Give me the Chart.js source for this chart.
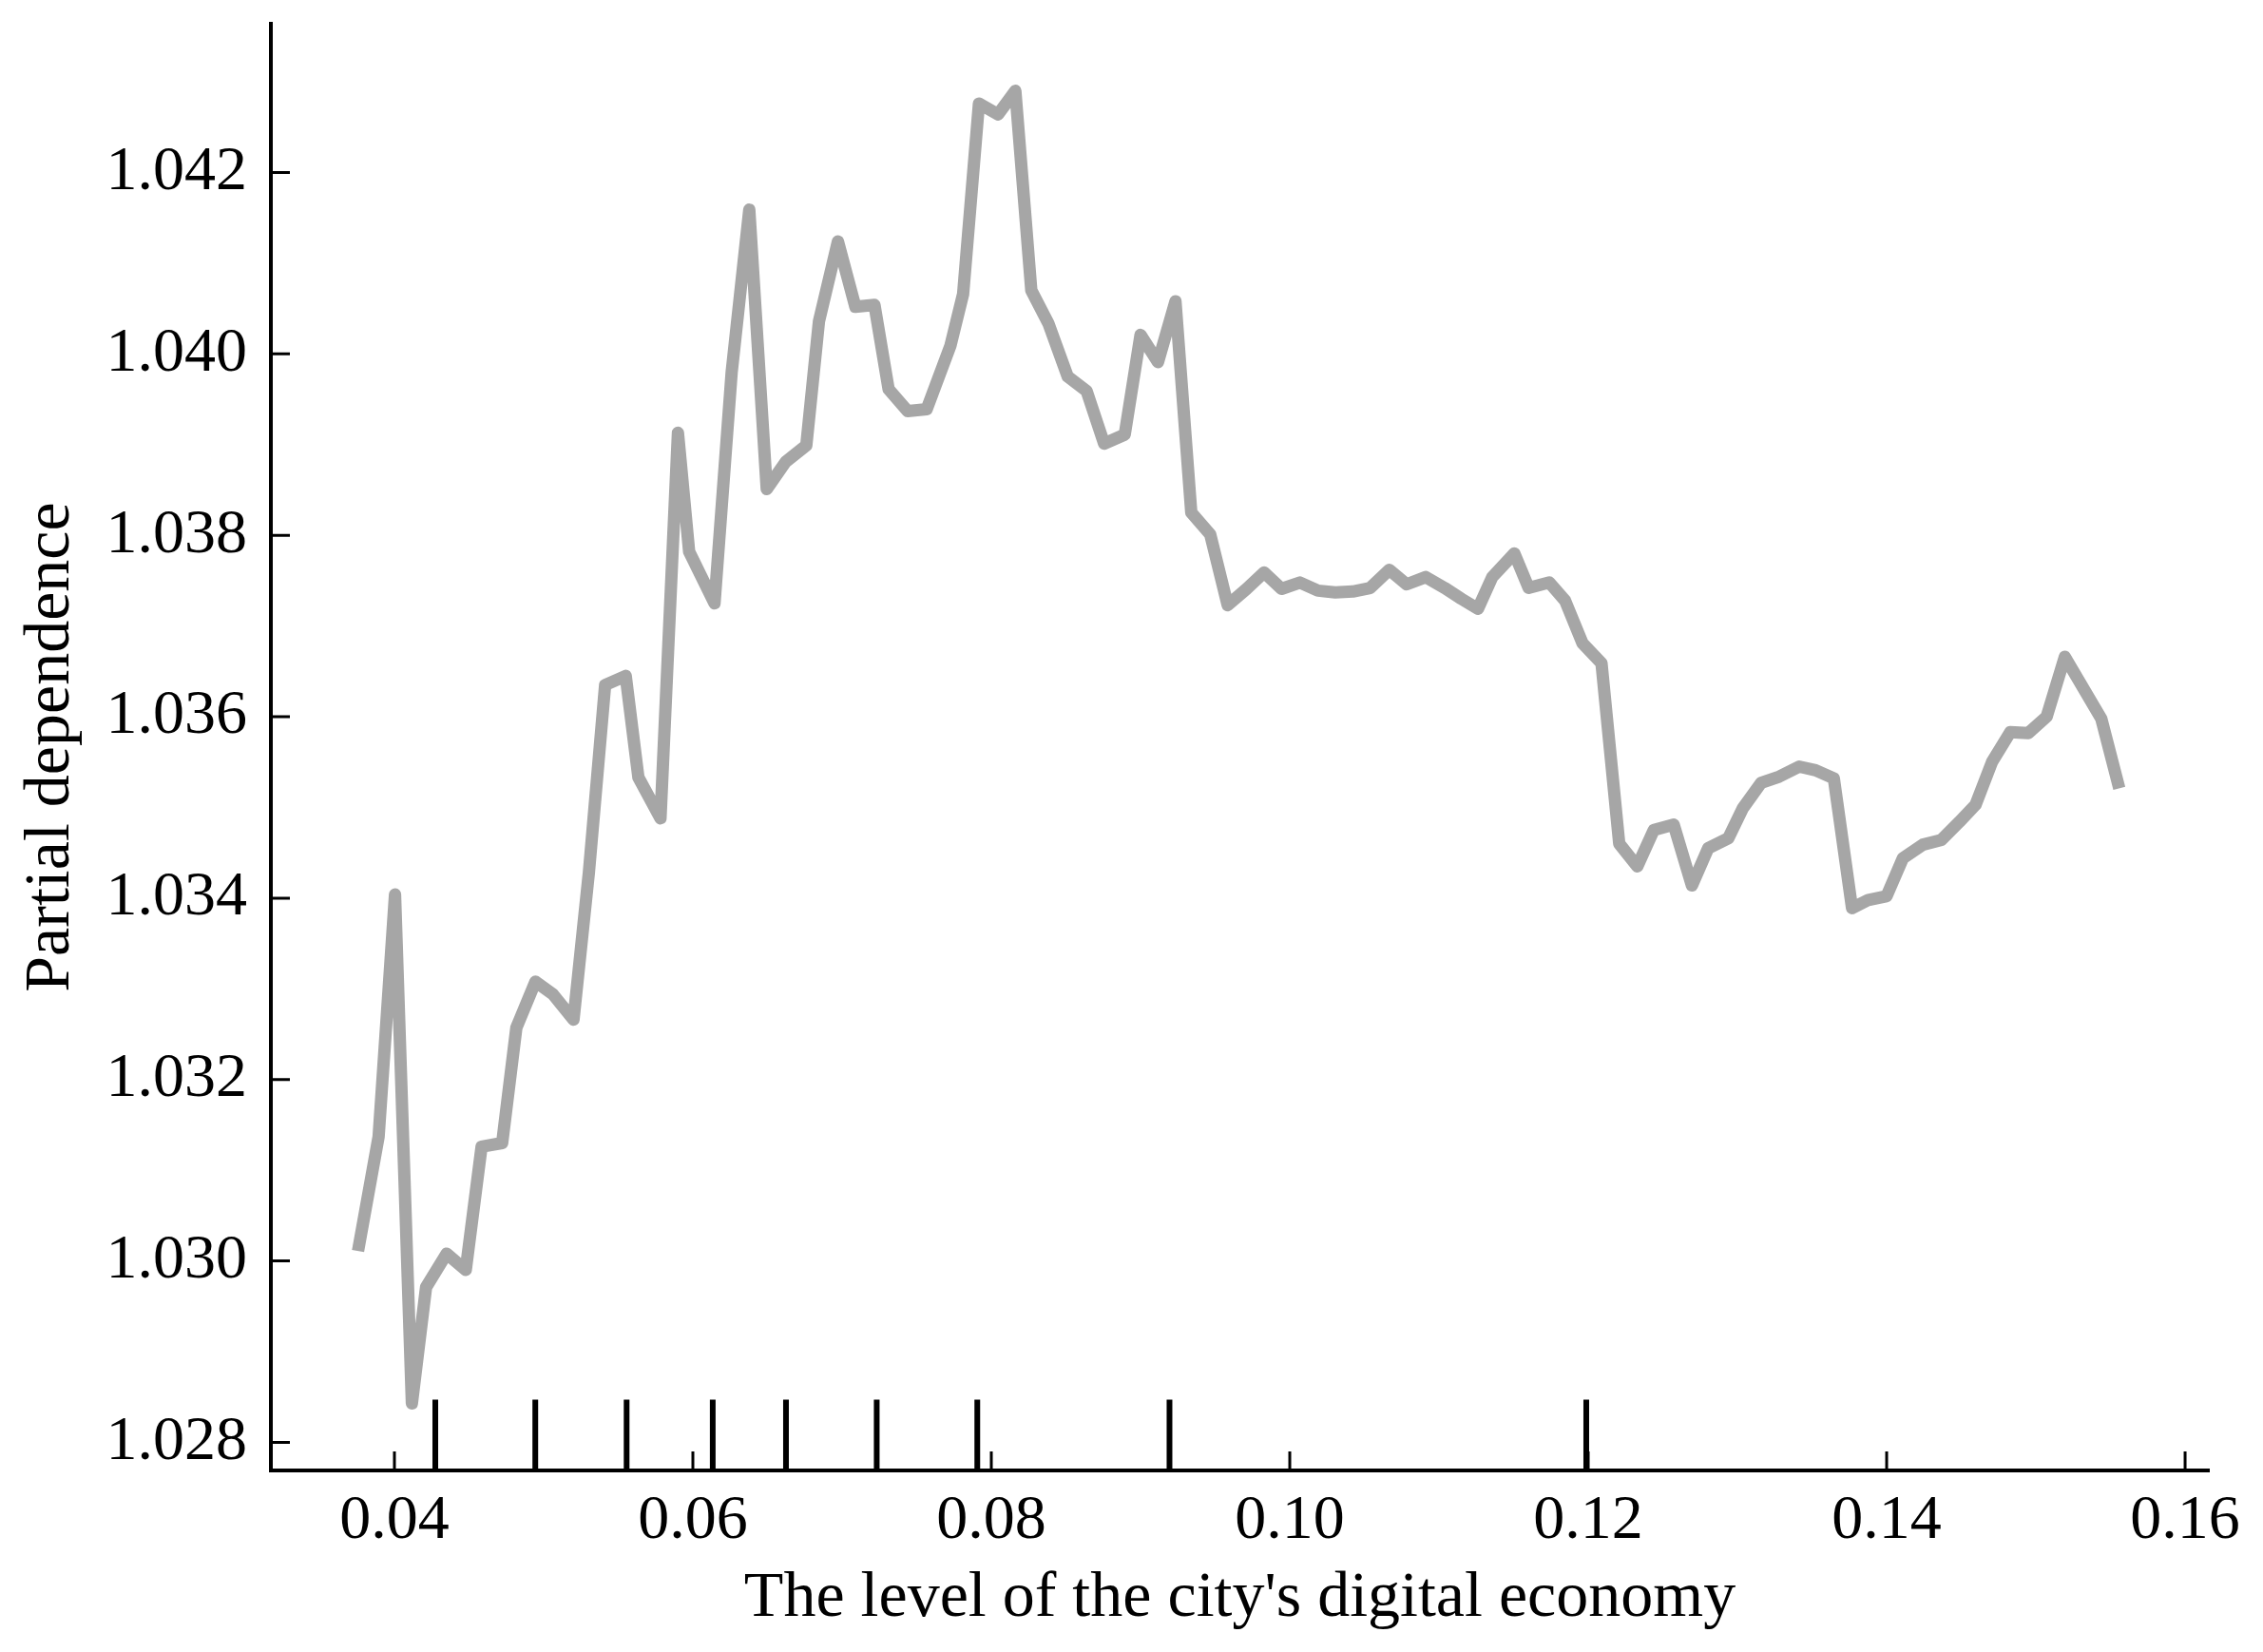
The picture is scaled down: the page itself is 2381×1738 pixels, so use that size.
<!DOCTYPE html>
<html>
<head>
<meta charset="utf-8">
<script src="https://cdn.jsdelivr.net/npm/chart.js@4.4.1/dist/chart.umd.min.js"></script>
<style>
  body { margin: 0; background: #fff; }
  canvas { display: block; }
</style>
</head>
<body>
<canvas id="pd-chart" width="2381" height="1738"></canvas>
<script>
// partial dependence curve
const pdX = [
    0.03756, 0.03894, 0.04004, 0.04117, 0.04212, 0.04350, 0.04478, 0.04584, 0.04722, 0.04817,
    0.04945, 0.05062, 0.05200, 0.05303, 0.05412, 0.05550, 0.05635, 0.05783, 0.05900, 0.05975,
    0.06145, 0.06260, 0.06378, 0.06495, 0.06622, 0.06760, 0.06845, 0.06972, 0.07089, 0.07217,
    0.07312, 0.07439, 0.07567, 0.07726, 0.07811, 0.07917, 0.08045, 0.08161, 0.08268, 0.08384,
    0.08512, 0.08639, 0.08756, 0.08894, 0.09000, 0.09117, 0.09234, 0.09340, 0.09467, 0.09584,
    0.09711, 0.09828, 0.09945, 0.10068, 0.10189, 0.10305, 0.10422, 0.10539, 0.10667, 0.10783,
    0.10911, 0.11038, 0.11150, 0.11261, 0.11357, 0.11505, 0.11601, 0.11739, 0.11845, 0.11962,
    0.12089, 0.12208, 0.12329, 0.12439, 0.12573, 0.12695, 0.12804, 0.12939, 0.13036, 0.13158,
    0.13280, 0.13414, 0.13524, 0.13646, 0.13768, 0.13877, 0.13999, 0.14109, 0.14243, 0.14365,
    0.14487, 0.14596, 0.14706, 0.14828, 0.14950, 0.15072, 0.15194, 0.15438, 0.15559
];
const pdY = [
    1.03011, 1.03137, 1.03404, 1.02843, 1.02971, 1.03008, 1.02990, 1.03126, 1.03130, 1.03257,
    1.03308, 1.03294, 1.03266, 1.03428, 1.03635, 1.03645, 1.03533, 1.03488, 1.03913, 1.03782,
    1.03725, 1.03980, 1.04159, 1.03851, 1.03881, 1.03899, 1.04036, 1.04124, 1.04052, 1.04054,
    1.03961, 1.03937, 1.03939, 1.04009, 1.04066, 1.04276, 1.04264, 1.04290, 1.04070, 1.04033,
    1.03975, 1.03959, 1.03901, 1.03911, 1.04021, 1.03991, 1.04058, 1.03825, 1.03801, 1.03723,
    1.03741, 1.03759, 1.03741, 1.03748, 1.03739, 1.03737, 1.03738, 1.03742, 1.03762, 1.03746,
    1.03754, 1.03742, 1.03730, 1.03719, 1.03754, 1.03780, 1.03742, 1.03748, 1.03728, 1.03681,
    1.03659, 1.03460, 1.03435, 1.03475, 1.03481, 1.03414, 1.03455, 1.03466, 1.03499, 1.03527,
    1.03534, 1.03545, 1.03541, 1.03532, 1.03389, 1.03398, 1.03402, 1.03444, 1.03459, 1.03464,
    1.03484, 1.03503, 1.03550, 1.03583, 1.03582, 1.03600, 1.03666, 1.03598, 1.03521
];

// deciles of the feature (rug marks at the bottom)
const rugX = [0.04274, 0.04944, 0.05556, 0.06133, 0.06624, 0.07232, 0.07906, 0.09194, 0.11987];
const rugTop = 1.02847;

const xTicks = [0.04, 0.06, 0.08, 0.10, 0.12, 0.14, 0.16];
const yTicks = [1.028, 1.030, 1.032, 1.034, 1.036, 1.038, 1.040, 1.042];

const xMin = 0.03172, xMax = 0.16159;
const yMin = 1.02769, yMax = 1.04364;

const curve = pdX.map((x, i) => ({ x: x, y: pdY[i] }));

let rug = [];
rugX.forEach(v => {
    rug.push({ x: v, y: yMin });
    rug.push({ x: v, y: rugTop });
    rug.push({ x: v, y: null });
});

// matplotlib style ticks pointing into the plot
const inwardTicks = {
    id: 'inwardTicks',
    afterDraw(chart) {
        const { ctx, chartArea, scales } = chart;
        ctx.save();
        ctx.strokeStyle = '#000';
        ctx.lineWidth = 3;
        ctx.beginPath();
        xTicks.forEach(v => {
            const px = scales.x.getPixelForValue(v);
            ctx.moveTo(px, chartArea.bottom);
            ctx.lineTo(px, chartArea.bottom - 20);
        });
        yTicks.forEach(v => {
            const py = scales.y.getPixelForValue(v);
            ctx.moveTo(chartArea.left, py);
            ctx.lineTo(chartArea.left + 20, py);
        });
        ctx.stroke();
        ctx.restore();
    }
};

const serif = "'Liberation Serif', 'Times New Roman', serif";

new Chart(document.getElementById('pd-chart').getContext('2d'), {
    type: 'line',
    data: {
        datasets: [
            {
                label: 'pd',
                data: curve,
                borderColor: '#a6a6a6',
                borderWidth: 13,
                borderJoinStyle: 'round',
                borderCapStyle: 'butt',
                pointRadius: 0,
                tension: 0,
                fill: false
            },
            {
                label: 'rug',
                data: rug,
                borderColor: '#000',
                borderWidth: 6,
                borderCapStyle: 'butt',
                pointRadius: 0,
                spanGaps: false,
                fill: false
            }
        ]
    },
    options: {
        responsive: false,
        animation: false,
        events: [],
        layout: { padding: { top: 25, right: 57, left: 0, bottom: 0 } },
        plugins: {
            legend: { display: false },
            tooltip: { enabled: false }
        },
        scales: {
            x: {
                type: 'linear',
                min: xMin,
                max: xMax,
                afterBuildTicks: s => { s.ticks = xTicks.map(v => ({ value: v })); },
                afterFit: s => {
                    s.height = 191;
                    s.paddingLeft = 0;
                    s.paddingRight = 0;
                },
                grid: { display: false, drawTicks: false },
                border: { display: true, color: '#000', width: 4 },
                ticks: {
                    color: '#000',
                    padding: 14,
                    maxRotation: 0,
                    font: { family: serif, size: 66 },
                    callback: v => v.toFixed(2)
                },
                title: {
                    display: true,
                    text: "The level of the city's digital economy",
                    color: '#000',
                    padding: { top: 0, bottom: 15 },
                    font: { family: serif, size: 68 }
                }
            },
            y: {
                type: 'linear',
                min: yMin,
                max: yMax,
                afterBuildTicks: s => { s.ticks = yTicks.map(v => ({ value: v })); },
                afterFit: s => {
                    s.width = 285;
                    s.paddingTop = 0;
                    s.paddingBottom = 0;
                },
                grid: { display: false, drawTicks: false },
                border: { display: true, color: '#000', width: 4 },
                ticks: {
                    color: '#000',
                    padding: 25,
                    font: { family: serif, size: 66 },
                    callback: v => v.toFixed(3)
                },
                title: {
                    display: true,
                    text: 'Partial dependence',
                    color: '#000',
                    padding: { top: 13, bottom: 0 },
                    font: { family: serif, size: 68 }
                }
            }
        }
    },
    plugins: [inwardTicks]
});
</script>
</body>
</html>
